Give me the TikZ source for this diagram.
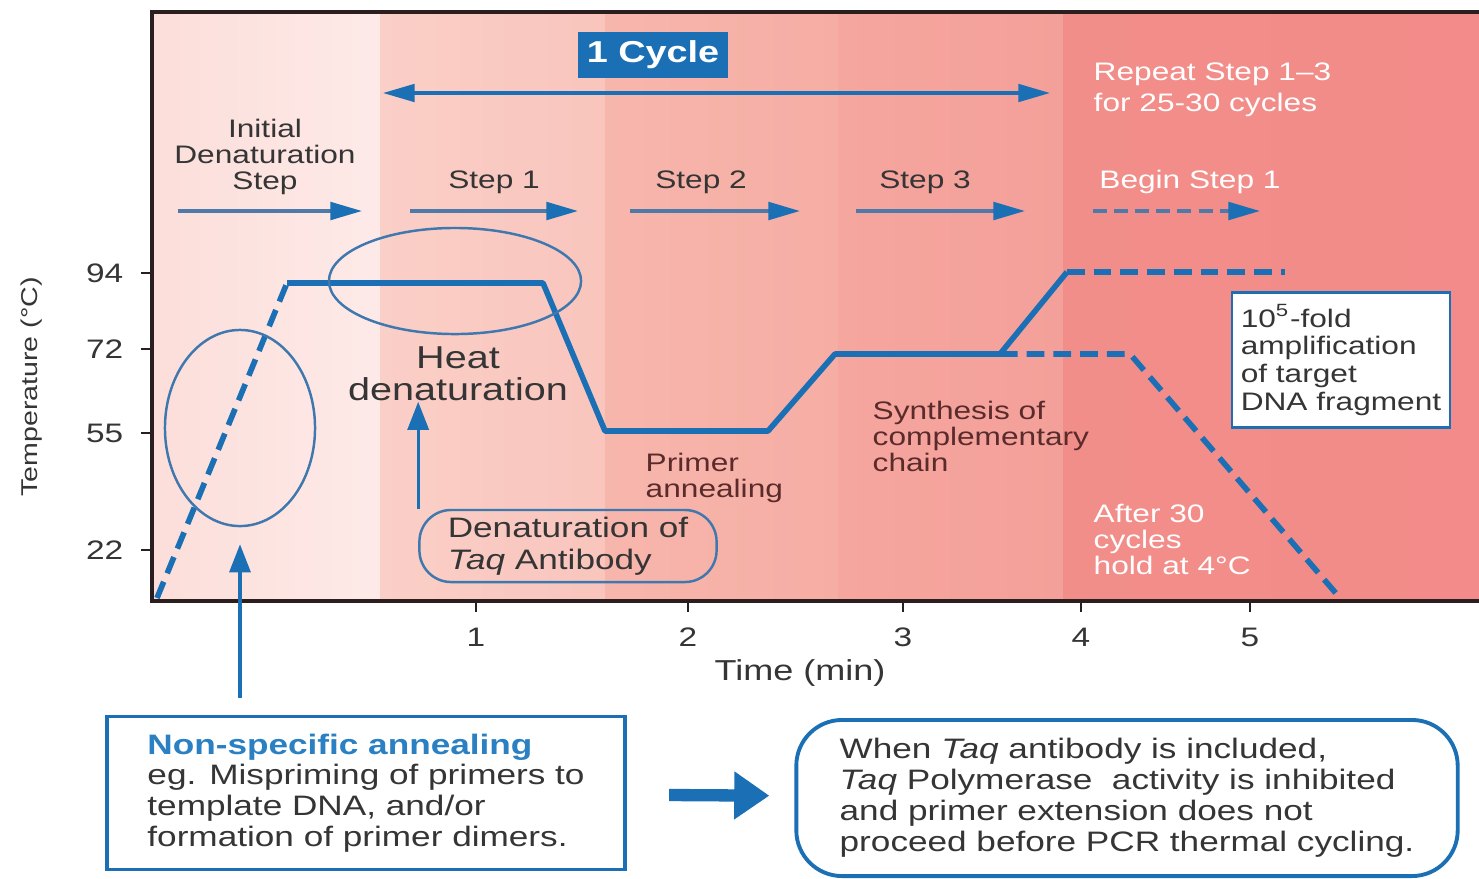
\documentclass[tikz,border=0pt]{standalone}
\usepackage{fontspec}
\setmainfont[FakeStretch=1.25]{Liberation Sans}
\usetikzlibrary{arrows.meta,shapes.geometric}

\definecolor{pcrblue}{HTML}{1B6FB5}
\definecolor{ringblue}{HTML}{3F78AE}
\definecolor{linegray}{HTML}{4F79A8}
\definecolor{framecol}{HTML}{2B1E1E}
\definecolor{txtgray}{HTML}{353535}
\definecolor{maroon}{HTML}{5A2B2B}
\definecolor{nsblue}{HTML}{2A80C2}
\definecolor{bandA}{HTML}{FCDEDA}
\definecolor{bandAr}{HTML}{FDEAE8}
\definecolor{bandB}{HTML}{FACFC7}
\definecolor{bandBr}{HTML}{F9C5BD}
\definecolor{bandC}{HTML}{F7B6AC}
\definecolor{bandCr}{HTML}{F6ADA4}
\definecolor{bandD}{HTML}{F5A69E}
\definecolor{bandDr}{HTML}{F4A09A}
\definecolor{bandE}{HTML}{F28E8A}
\definecolor{bandEr}{HTML}{F28B89}

\begin{document}
\begin{tikzpicture}[x=0.01cm, y=-0.01cm,
  every node/.style={inner sep=0pt, text=txtgray},
  lab/.style={font=\fontsize{7.2}{7.4}\selectfont, align=center},
  ticklab/.style={font=\fontsize{7.6}{8}\selectfont},
  axlab/.style={font=\fontsize{8.2}{9}\selectfont},
  frame/.style={line width=1.2pt, draw=framecol},
  tick/.style={line width=0.8pt, draw=framecol},
  prof/.style={line width=1.6pt, draw=pcrblue, line join=round},
  profdash/.style={prof, dash pattern=on 5pt off 2.6pt},
  ring/.style={ellipse, draw=ringblue, line width=0.7pt},
  steparr/.style={line width=1pt, draw=linegray, -{Triangle[length=9pt, width=5pt, color=pcrblue]}},
  uparr/.style={line width=0.9pt, draw=pcrblue, -{Triangle[length=8pt, width=6pt]}},
  cycarr/.style={line width=0.9pt, draw=pcrblue, {Triangle[length=9pt, width=5pt]}-{Triangle[length=9pt, width=5pt]}},
  bigarr/.style={line width=3.5pt, draw=pcrblue, -{Triangle[length=10pt, width=13pt]}},
  cyclebox/.style={fill=pcrblue, text=white, font=\fontsize{8.6}{9}\selectfont\bfseries,
    minimum width=1.5cm, minimum height=0.46cm},
  heat/.style={font=\fontsize{9}{9.1}\selectfont, align=center},
  taqbox/.style={draw=ringblue, line width=0.7pt, rounded corners=9pt, align=left,
    font=\fontsize{8}{9.1}\selectfont, minimum width=2.97cm, minimum height=0.72cm},
  ampbox/.style={draw=pcrblue, fill=white, line width=0.7pt, align=left,
    font=\fontsize{7.2}{7.9}\selectfont, minimum width=2.18cm, minimum height=1.35cm},
  nsabox/.style={draw=pcrblue, fill=white, line width=1.1pt, align=left,
    font=\fontsize{8}{8.7}\selectfont, minimum width=5.18cm, minimum height=1.53cm},
  abbox/.style={draw=pcrblue, fill=white, line width=1.1pt, rounded corners=13pt, align=left,
    font=\fontsize{8}{8.8}\selectfont, minimum width=6.61cm, minimum height=1.56cm}]

\useasboundingbox (0,0) rectangle (1479,878);
\fill[white] (0,0) rectangle (1479,878);

% time bands
\shade[left color=bandA, right color=bandAr] (152,12) rectangle (380,601);
\shade[left color=bandB, right color=bandBr] (380,12) rectangle (605,601);
\shade[left color=bandC, right color=bandCr] (605,12) rectangle (838,601);
\shade[left color=bandD, right color=bandDr] (838,12) rectangle (1063,601);
\shade[left color=bandE, right color=bandEr] (1063,12) rectangle (1479,601);

% axes
\draw[frame] (150,12) -- (1479,12);
\draw[frame] (152,12) -- (152,601) -- (1479,601);
\foreach \t/\y in {94/273, 72/349, 55/433, 22/550} {
  \draw[tick] (141,\y) -- (152,\y);
  \node[ticklab, anchor=east] at (124,\y) {\t};
}
\foreach \t/\x in {1/476, 2/688, 3/903, 4/1081, 5/1250} {
  \draw[tick] (\x,601) -- (\x,612);
  \node[ticklab] at (\x,637) {\t};
}
\node[axlab, rotate=90, font=\fontsize{6.5}{7}\selectfont] (ylab) at (32,387) {Temperature (°C)};
\node[axlab] (xlab) at (800,673) {Time (min)};

% step headings
\node[cyclebox] (cyc) at (653,55) {1 Cycle};
\draw[cycarr] (383,93) -- (1050,93);
\node[lab, text=white, align=left, anchor=west, font=\fontsize{7.2}{8.8}\selectfont] (rep) at (1093,90) {Repeat Step 1--3\\for 25-30 cycles};

\node[lab] (init) at (265,157) {Initial\\Denaturation\\Step};
\node[lab] (s1) at (494,182) {Step 1};
\node[lab] (s2) at (701,182) {Step 2};
\node[lab] (s3) at (925,182) {Step 3};
\node[lab, text=white] (s4) at (1190,182) {Begin Step 1};

\draw[steparr] (178,211) -- (362,211);
\draw[steparr] (410,211) -- (578,211);
\draw[steparr] (630,211) -- (800,211);
\draw[steparr] (856,211) -- (1025,211);
\draw[steparr, dash pattern=on 4pt off 2pt] (1093,211) -- (1260,211);

% temperature profile
\draw[profdash] (157,598) -- (287,283);
\draw[prof] (287,283) -- (543,283) -- (605,431) -- (768,431) -- (835,354) -- (1000,354) -- (1067,272);
\draw[profdash] (1067,272) -- (1285,272);
\draw[profdash] (1000,354) -- (1130,354) -- (1340,598);

\node[ring, minimum width=1.5cm, minimum height=1.96cm] (e1) at (240,428) {};
\node[ring, minimum width=2.52cm, minimum height=1.06cm] (e2) at (455,281) {};

% labels in the plot
\node[heat] (heat) at (458,374) {Heat\\denaturation};
\node[taqbox] (taq) at (568,546) {Denaturation of\\\textit{Taq} Antibody};
\draw[uparr] (taq.north west) -- (taq.north west |- heat.south);
\node[lab, align=left, anchor=west, text=maroon] (prim) at (645,478) {Primer\\annealing};
\node[lab, align=left, anchor=west, text=maroon] (syn) at (872,436) {Synthesis of\\complementary\\chain};
\node[lab, align=left, anchor=west, text=white] (hold) at (1093,539) {After 30\\cycles\\hold at 4°C};
\node[ampbox] (amp) at (1341,360) {10\textsuperscript{5}-fold\\amplification\\of target\\DNA fragment};

% notes below
\node[nsabox] (nsa) at (366,793) {\textcolor{nsblue}{\bfseries Non-specific annealing}\\eg. Mispriming of primers to\\template DNA, and/or\\formation of primer dimers.};
\node[abbox] (ab) at (1127,798) {When \textit{Taq} antibody is included,\\\textit{Taq} Polymerase\ \ activity is inhibited\\and primer extension does not\\proceed before PCR thermal cycling.};

\draw[uparr, shorten <=0.17cm, shorten >=0.17cm] (nsa.north -| e1.south) -- (e1.south);
\draw[bigarr, shorten <=0.42cm, shorten >=0.25cm] (nsa) -- (ab);
\end{tikzpicture}
\end{document}
